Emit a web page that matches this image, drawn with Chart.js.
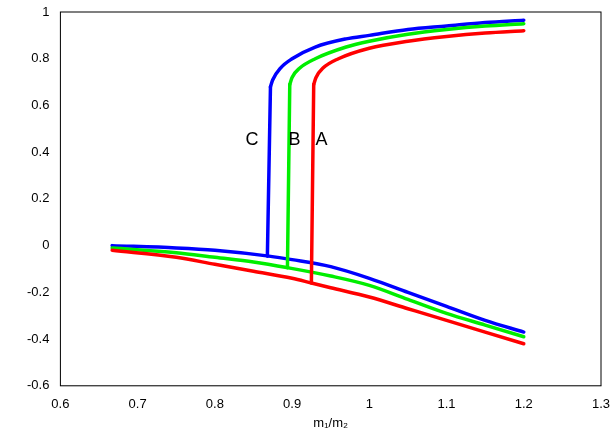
<!DOCTYPE html>
<html><head><meta charset="utf-8">
<script src="https://cdn.jsdelivr.net/npm/chart.js@4"></script>
<style>body{margin:0;background:#fff}#wrap{width:615px;height:431px}</style>
</head><body><div id="wrap"><canvas id="c"></canvas></div>
<script>
// lower branches [x, y]
const lowerA = [[0.667,-0.02],[0.75,-0.05],[0.8,-0.08],[0.85,-0.11],[0.9,-0.14],[0.925,-0.16],[0.95,-0.18],[1.0,-0.22],[1.05,-0.27],[1.1,-0.32],[1.15,-0.37],[1.2,-0.42]];
const lowerB = [[0.667,-0.01],[0.75,-0.03],[0.8,-0.05],[0.85,-0.07],[0.895,-0.095],[0.95,-0.13],[1.0,-0.17],[1.05,-0.23],[1.1,-0.29],[1.15,-0.34],[1.2,-0.39]];
const lowerC = [[0.667,0.0],[0.75,-0.01],[0.8,-0.02],[0.87,-0.045],[0.9,-0.06],[0.95,-0.09],[1.0,-0.14],[1.05,-0.2],[1.1,-0.26],[1.15,-0.32],[1.2,-0.37]];
// jumps
const jumpA = [[0.925,-0.16],[0.928,0.69]];
const jumpB = [[0.894,-0.095],[0.897,0.69]];
const jumpC = [[0.868,-0.045],[0.872,0.68]];
// upper branches
const upperA = [[0.928,0.69],[0.931,0.72],[0.94,0.76],[0.96,0.8],[1.0,0.845],[1.05,0.875],[1.1,0.895],[1.15,0.91],[1.2,0.92]];
const upperB = [[0.897,0.69],[0.9,0.72],[0.91,0.76],[0.93,0.8],[0.97,0.85],[1.0,0.875],[1.05,0.905],[1.1,0.925],[1.15,0.94],[1.2,0.95]];
const upperC = [[0.872,0.68],[0.875,0.71],[0.885,0.76],[0.9,0.8],[0.93,0.85],[0.97,0.885],[1.0,0.9],[1.05,0.925],[1.1,0.94],[1.15,0.955],[1.2,0.965]];
const curveLabels = [['C',0.848,0.45],['B',0.903,0.45],['A',0.938,0.45]];

const pts = a => a.map(p => ({x:p[0], y:p[1]}));
function ds(data, color, smooth){
  return {data: pts(data), borderColor: color, borderWidth: 3.5, pointRadius: 0, showLine: true,
    tension: smooth ? 0.4 : 0, cubicInterpolationMode: smooth ? 'monotone' : 'default', fill: false, borderCapStyle: 'round', borderJoinStyle: 'round'};
}
const labelPlugin = {
  id: 'lbl',
  afterDatasetsDraw(chart){
    const ctx = chart.ctx, xs = chart.scales.x, ys = chart.scales.y;
    ctx.save();
    ctx.font = '18px "Liberation Sans", Arial';
    ctx.fillStyle = '#000'; ctx.textAlign = 'center'; ctx.textBaseline = 'middle';
    curveLabels.forEach(l => ctx.fillText(l[0], xs.getPixelForValue(l[1]), ys.getPixelForValue(l[2])));
    const a = chart.chartArea;
    ctx.strokeStyle = '#000'; ctx.lineWidth = 1;
    ctx.strokeRect(a.left, a.top, a.right - a.left, a.bottom - a.top);
    ctx.restore();
  }
};
const R = '#ff0000', G = '#00ee00', B = '#0000ff';
new Chart(document.getElementById('c'), {
  type: 'scatter',
  data: {datasets: [
    ds(lowerA,R,true), ds(jumpA,R,false), ds(upperA,R,true),
    ds(lowerB,G,true), ds(jumpB,G,false), ds(upperB,G,true),
    ds(lowerC,B,true), ds(jumpC,B,false), ds(upperC,B,true)]},
  options: {
    responsive: true, maintainAspectRatio: false, animation: false,
    layout: {padding: {left: 24, right: 14, top: 12, bottom: 0}},
    plugins: {legend: {display: false}, tooltip: {enabled: false}},
    scales: {
      x: {type: 'linear', min: 0.6, max: 1.3,
        ticks: {stepSize: 0.1, color: '#000', font: {size: 13, family: 'Liberation Sans'}, callback: v => +v.toFixed(1)},
        grid: {display: false},
        title: {display: true, text: 'm₁/m₂', color: '#000', font: {size: 13, family: 'Liberation Sans'}, padding: 0}},
      y: {min: -0.6, max: 1,
        ticks: {stepSize: 0.2, color: '#000', font: {size: 13, family: 'Liberation Sans'}, callback: v => +v.toFixed(1)},
        grid: {display: false}}
    }
  },
  plugins: [labelPlugin]
});
</script></body></html>
